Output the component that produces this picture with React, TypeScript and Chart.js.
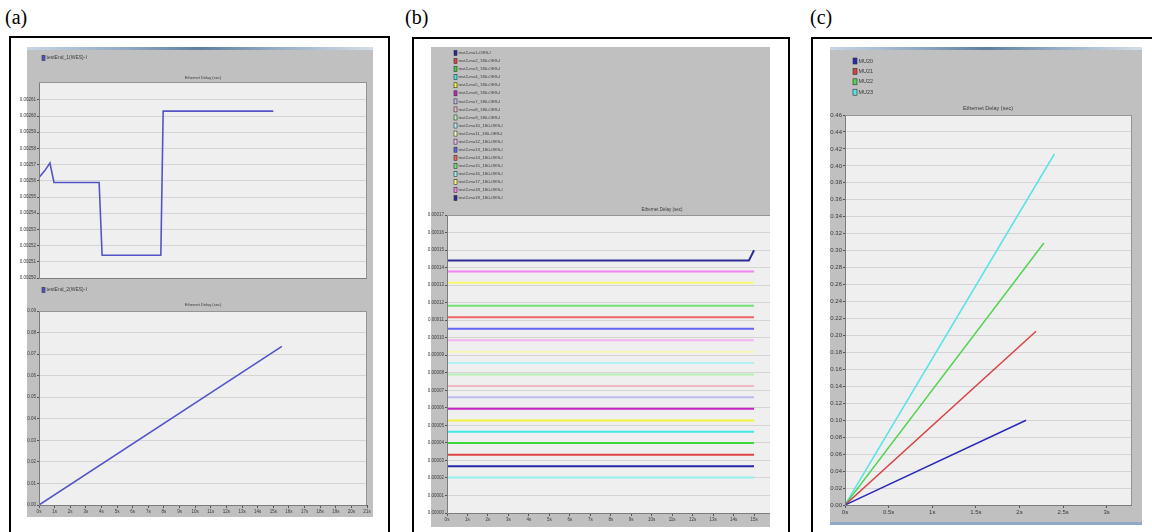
import React, { useEffect, useRef } from "react";
import { Chart, registerables } from "chart.js";

Chart.register(...registerables);

// ---------- Panel (a) top ----------
const aTopSeries = "testEnd_1(WES)-I";
const aTopTime = [0, 0.35, 0.7, 0.96, 3.85, 4.04, 7.8, 7.95, 15];
const aTopDelay = [0.002562, 0.002566, 0.002571, 0.002559, 0.002559, 0.002514, 0.002514, 0.002603, 0.002603];
const aTopYTicks = [0.0025, 0.00251, 0.00252, 0.00253, 0.00254, 0.00255, 0.00256, 0.00257, 0.00258, 0.00259, 0.0026, 0.00261];

// ---------- Panel (a) bottom ----------
const aBotSeries = "testEnd_2(WES)-I";
const aBotTime = [0, 15.55];
const aBotDelay = [0, 0.0736];
const aBotYTicks = [0, 0.01, 0.02, 0.03, 0.04, 0.05, 0.06, 0.07, 0.08, 0.09];
const aXTicks = [0, 1, 2, 3, 4, 5, 6, 7, 8, 9, 10, 11, 12, 13, 14, 15, 16, 17, 18, 19, 20, 21];

// ---------- Panel (b) ----------
const bSeries = [
  "test2-mu1-OES-I", "test2-mu2_180-OES-I", "test2-mu3_180-OES-I", "test2-mu4_180-OES-I",
  "test2-mu5_180-OES-I", "test2-mu6_180-OES-I", "test2-mu7_180-OES-I", "test2-mu8_180-OES-I",
  "test2-mu9_180-OES-I", "test2-mu10_180-OES-I", "test2-mu11_180-OES-I", "test2-mu12_180-OES-I",
  "test2-mu13_180-OES-I", "test2-mu14_180-OES-I", "test2-mu15_180-OES-I", "test2-mu16_180-OES-I",
  "test2-mu17_180-OES-I", "test2-mu18_180-OES-I", "test2-mu19_180-OES-I",
];
const bColors = [
  "#2428a8", "#e04444", "#3cd83c", "#3ce8e8", "#f2f23a", "#c424c4", "#bcbcf2", "#f2b6c4",
  "#b4f0b4", "#b4f0f0", "#f8f8b4", "#f2b4f2", "#6464f2", "#f06464", "#74e274", "#94f0f0",
  "#f8f874", "#f084f0", "#2c2c94",
];
const bTime = [0, 15];
const bDelay = [
  0.0000267, 0.0000332, 0.0000399, 0.0000464, 0.0000528, 0.0000595, 0.000066, 0.0000725,
  0.000079, 0.0000855, 0.000092, 0.0000985, 0.0001051, 0.0001116, 0.0001183, 0.0000202,
  0.0001313, 0.0001378,
];
const bLastTime = [0, 14.75, 15];
const bLastDelay = [0.0001441, 0.0001441, 0.0001499];
const bYTicks = [
  0, 0.00001, 0.00002, 0.00003, 0.00004, 0.00005, 0.00006, 0.00007, 0.00008, 0.00009,
  0.0001, 0.00011, 0.00012, 0.00013, 0.00014, 0.00015, 0.00016, 0.00017,
];
const bXTicks = [0, 1, 2, 3, 4, 5, 6, 7, 8, 9, 10, 11, 12, 13, 14, 15];

// ---------- Panel (c) ----------
const cSeries = ["MU20", "MU21", "MU22", "MU23"];
const cColors = ["#2a2ab8", "#d44444", "#52d452", "#56e4e4"];
const cTimeEnd = [2.076, 2.19, 2.28, 2.4];
const cDelayEnd = [0.1, 0.205, 0.309, 0.414];
const cYTicks = [
  0, 0.02, 0.04, 0.06, 0.08, 0.1, 0.12, 0.14, 0.16, 0.18, 0.2, 0.22, 0.24, 0.26, 0.28, 0.3,
  0.32, 0.34, 0.36, 0.38, 0.4, 0.42, 0.44, 0.46,
];
const cXTicks = [0, 0.5, 1, 1.5, 2, 2.5, 3];

const TITLE = "Ethernet Delay (sec)";
const FONT = '"Liberation Sans Narrow", "Liberation Sans", Arial, sans-serif';
const GREY = "#c0c0c0";

const decor = {
  id: "decor",
  beforeDraw(chart: any, _a: any, o: any) {
    const { ctx, chartArea: ca } = chart;
    ctx.save();
    ctx.fillStyle = "#efefef";
    ctx.fillRect(ca.left, ca.top, ca.right - ca.left, ca.bottom - ca.top);
    ctx.restore();
  },
  afterDraw(chart: any, _a: any, o: any) {
    const { ctx, chartArea: ca } = chart;
    ctx.save();
    ctx.lineWidth = 1;
    ctx.strokeStyle = "#7c7c7c";
    ctx.beginPath();
    ctx.moveTo(ca.left + 0.5, ca.top);
    ctx.lineTo(ca.left + 0.5, ca.bottom + 0.5);
    ctx.lineTo(ca.right, ca.bottom + 0.5);
    ctx.stroke();
    ctx.strokeStyle = "#959595";
    ctx.beginPath();
    ctx.moveTo(ca.left, ca.top + 0.5);
    ctx.lineTo(ca.right, ca.top + 0.5);
    if (o.frameRight) {
      ctx.moveTo(ca.right - 0.5, ca.top);
      ctx.lineTo(ca.right - 0.5, ca.bottom);
    }
    ctx.stroke();

    ctx.fillStyle = "#3a3a3a";
    ctx.textBaseline = "middle";
    ctx.textAlign = "center";
    ctx.font = `${o.titleSize}px ${FONT}`;
    ctx.fillText(TITLE, o.titleX, o.titleY);

    ctx.textAlign = "left";
    ctx.font = `${o.legendSize}px ${FONT}`;
    chart.data.datasets.forEach((ds: any, i: number) => {
      const y = o.legendY + i * o.legendGap;
      ctx.fillStyle = ds.borderColor;
      ctx.fillRect(o.legendX, y - o.boxH / 2, o.boxW, o.boxH);
      ctx.strokeStyle = "#303030";
      ctx.lineWidth = 0.6;
      ctx.strokeRect(o.legendX, y - o.boxH / 2, o.boxW, o.boxH);
      ctx.fillStyle = "#3a3a3a";
      ctx.fillText(ds.label, o.legendX + o.boxW + 1.5, y);
    });
    ctx.restore();
  },
};

function ds(label: string, color: string, xs: number[], ys: number[], w: number) {
  return {
    label,
    data: xs.map((x, i) => ({ x, y: ys[i] })),
    borderColor: color,
    backgroundColor: color,
    borderWidth: w,
    pointRadius: 0,
    tension: 0,
    fill: false,
  };
}

function opts(p: any) {
  const tickFont = { size: p.fontSize, family: FONT };
  return {
    animation: false,
    responsive: false,
    devicePixelRatio: 1,
    layout: { padding: p.pad },
    plugins: { legend: { display: false }, tooltip: { enabled: false }, title: { display: false }, decor: p.decor },
    scales: {
      x: {
        type: "linear",
        min: p.xMin,
        max: p.xMax,
        display: p.showX,
        afterBuildTicks: (s: any) => {
          s.ticks = p.xTicks.map((v: number) => ({ value: v }));
        },
        afterFit: (s: any) => {
          s.height = p.xHeight;
        },
        grid: { drawOnChartArea: false, tickLength: 3, color: "#555" },
        border: { display: false },
        ticks: { font: tickFont, color: "#3a3a3a", padding: 1, maxRotation: 0, autoSkip: false, callback: (v: any) => `${v}s` },
      },
      y: {
        type: "linear",
        min: p.yMin,
        max: p.yMax,
        afterBuildTicks: (s: any) => {
          s.ticks = p.yTicks.map((v: number) => ({ value: v }));
        },
        afterFit: (s: any) => {
          s.width = p.yWidth;
        },
        grid: { color: "#d4d4d4", tickColor: "#555", tickLength: 2 },
        border: { display: false },
        ticks: { font: tickFont, color: "#3a3a3a", padding: 1, autoSkip: false, callback: (v: any) => Number(v).toFixed(p.dec) },
      },
    },
  };
}

function ChartBox({ left, top, width, height, make }: any) {
  const ref = useRef<HTMLCanvasElement>(null);
  useEffect(() => {
    const chart = new Chart(ref.current as HTMLCanvasElement, make());
    return () => chart.destroy();
  }, []);
  return (
    <div style={{ position: "absolute", left, top, width, height }}>
      <canvas ref={ref} width={width} height={height} style={{ width, height, display: "block" }} />
    </div>
  );
}

const makeATop = () => ({
  type: "line",
  data: { datasets: [ds(aTopSeries, "#5454c8", aTopTime, aTopDelay, 1.6)] },
  options: opts({
    xMin: 0, xMax: 21, xTicks: aXTicks, showX: false, xHeight: 0,
    yMin: 0.0025, yMax: 0.002621, yTicks: aTopYTicks, yWidth: 19, dec: 5, fontSize: 4.5,
    pad: { left: 0, top: 35, right: 6, bottom: 4 },
    decor: { frameRight: true, titleSize: 4, titleX: 183, titleY: 31, legendX: 22, legendY: 11, legendGap: 8, legendSize: 5, boxW: 3, boxH: 5 },
  }),
  plugins: [decor],
});

const makeABot = () => ({
  type: "line",
  data: { datasets: [ds(aBotSeries, "#5454c8", aBotTime, aBotDelay, 1.6)] },
  options: opts({
    xMin: 0, xMax: 21, xTicks: aXTicks, showX: true, xHeight: 12,
    yMin: 0, yMax: 0.09, yTicks: aBotYTicks, yWidth: 19, dec: 2, fontSize: 4.5,
    pad: { left: 0, top: 29, right: 6, bottom: 0 },
    decor: { frameRight: true, titleSize: 4, titleX: 183, titleY: 23, legendX: 22, legendY: 8, legendGap: 8, legendSize: 5, boxW: 3, boxH: 5 },
  }),
  plugins: [decor],
});

const makeB = () => {
  const sets = bDelay.map((v, i) => ds(bSeries[i], bColors[i], bTime, bTime.map(() => v), 2));
  sets.push(ds(bSeries[18], bColors[18], bLastTime, bLastDelay, 2));
  return {
    type: "line",
    data: { datasets: sets },
    options: opts({
      xMin: 0, xMax: 15.78, xTicks: bXTicks, showX: true, xHeight: 14,
      yMin: 0, yMax: 0.00017, yTicks: bYTicks, yWidth: 19, dec: 5, fontSize: 4.5,
      pad: { left: 0, top: 168, right: 0, bottom: 0 },
      decor: { frameRight: false, titleSize: 4.5, titleX: 234, titleY: 163, legendX: 26, legendY: 6, legendGap: 8.06, legendSize: 4.3, boxW: 3, boxH: 5 },
    }),
    plugins: [decor],
  };
};

const makeC = () => ({
  type: "line",
  data: {
    datasets: cSeries.map((s, i) => ds(s, cColors[i], [0, cTimeEnd[i]], [0, cDelayEnd[i]], 1.5)),
  },
  options: opts({
    xMin: 0, xMax: 3.29, xTicks: cXTicks, showX: true, xHeight: 17,
    yMin: 0, yMax: 0.46, yTicks: cYTicks, yWidth: 19, dec: 2, fontSize: 6,
    pad: { left: 0, top: 68, right: 10, bottom: 0 },
    decor: { frameRight: true, titleSize: 5.5, titleX: 162, titleY: 61, legendX: 27, legendY: 14, legendGap: 10.4, legendSize: 5.5, boxW: 4, boxH: 6 },
  }),
  plugins: [decor],
});

const abs = (l: number, t: number, w: number, h: number, extra: any = {}) => ({
  position: "absolute" as const,
  left: l,
  top: t,
  width: w,
  height: h,
  boxSizing: "border-box" as const,
  ...extra,
});

const bar = "linear-gradient(to right, #c8d6e4 0%, #8ea6c0 30%, #5f7f9f 50%, #9cb2c8 75%, #d4dee8 100%)";
const labelStyle = { fontFamily: '"Liberation Serif", "Times New Roman", serif', fontSize: 20, lineHeight: "22px", color: "#000" };

export default function App() {
  return (
    <div style={{ position: "fixed", left: 0, top: 0, width: 1152, height: 532, background: "#fff", overflow: "hidden" }}>
      <div style={abs(5, 6, 40, 24, labelStyle)}>(a)</div>
      <div style={abs(405, 6, 40, 24, labelStyle)}>(b)</div>
      <div style={abs(810, 6, 40, 24, labelStyle)}>(c)</div>

      {/* panel a */}
      <div style={abs(9, 36, 381, 520, { border: "2px solid #000" })} />
      <div style={abs(27, 47, 346, 470, { background: GREY })} />
      <div style={abs(27, 47, 346, 3, { background: bar })} />
      <ChartBox left={20} top={47} width={353} height={235} make={makeATop} />
      <ChartBox left={20} top={282} width={353} height={235} make={makeABot} />

      {/* panel b */}
      <div style={abs(412, 37, 378, 520, { border: "2px solid #000" })} />
      <div style={abs(431, 47, 339, 480, { background: GREY })} />
      <ChartBox left={428} top={47} width={342} height={480} make={makeB} />

      {/* panel c */}
      <div style={abs(811, 37, 400, 520, { border: "2px solid #000" })} />
      <div style={abs(830, 47, 312, 475, { background: GREY })} />
      <div style={abs(830, 47, 312, 3, { background: bar })} />
      <div style={abs(830, 522, 312, 3, { background: "#8fa8c4" })} />
      <ChartBox left={826} top={47} width={316} height={475} make={makeC} />
    </div>
  );
}
